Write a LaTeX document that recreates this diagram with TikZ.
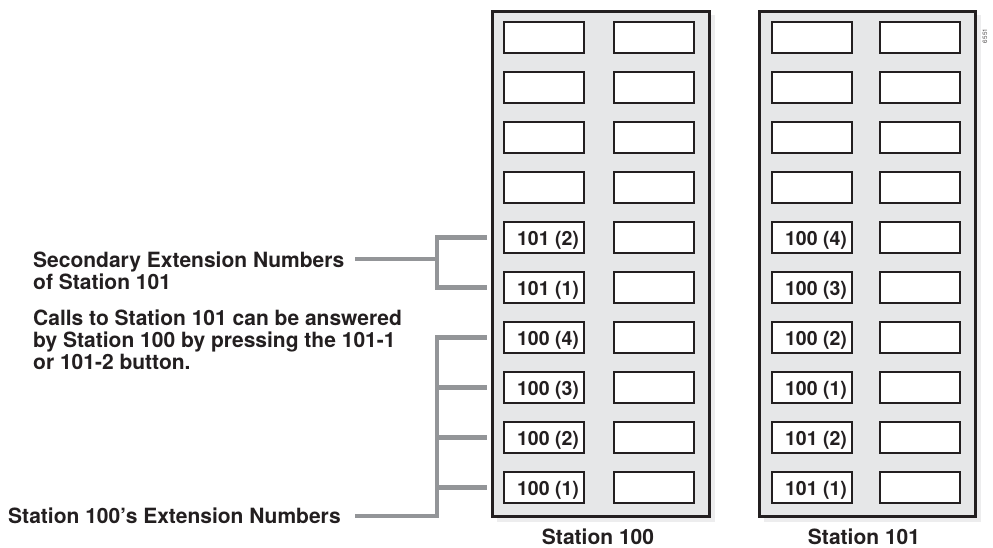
\documentclass[tikz,border=0pt]{standalone}
\usepackage{fontspec}
\setmainfont{TeX Gyre Heros}
\usetikzlibrary{calc}
\definecolor{panelfill}{HTML}{E6E7E8}
\definecolor{shadowc}{HTML}{EDEDEE}
\definecolor{framec}{HTML}{231F20}
\definecolor{connc}{HTML}{939598}
\begin{document}
\begin{tikzpicture}[x=1pt,y=-1pt,
  panel/.style={draw=framec,line width=2.6pt,fill=panelfill},
  pshadow/.style={fill=shadowc,draw=none},
  btn/.style={draw=framec,line width=2pt,fill=white,minimum width=80pt,minimum height=31pt,inner sep=0pt,anchor=north west},
  btntext/.style={font=\fontsize{19.5}{21}\selectfont\bfseries,text=framec,inner sep=0pt,anchor=base},
  lbl/.style={font=\fontsize{21}{22}\selectfont\bfseries,text=framec,inner sep=0pt,align=left},
  conn/.style={draw=connc,line width=4.5pt}]
\useasboundingbox (0,0) rectangle (993,548);
% shadows
\fill[pshadow] (497,15) rectangle (715,522);
\fill[pshadow] (764,15) rectangle (981,522);
% panels
\node[panel,minimum width=217pt,minimum height=505pt,inner sep=0pt,anchor=north west] (p100) at (491,10) {};
\node[panel,minimum width=216pt,minimum height=505pt,inner sep=0pt,anchor=north west] (p101) at (758,10) {};
% buttons
\foreach \i in {0,...,9}{
  \node[btn] (A\i) at (503,{21+50*\i}) {};
  \node[btn] (B\i) at (613,{21+50*\i}) {};
  \node[btn] (C\i) at (771,{21+50*\i}) {};
  \node[btn] (D\i) at (879,{21+50*\i}) {};
}
% button labels station 100
\node[btntext] (tA4) at ([xshift=4pt,yshift=-7.5pt]A4.center) {101 (2)};
\node[btntext] (tA5) at ([xshift=4pt,yshift=-7.5pt]A5.center) {101 (1)};
\node[btntext] (tA6) at ([xshift=4pt,yshift=-7.5pt]A6.center) {100 (4)};
\node[btntext] (tA7) at ([xshift=4pt,yshift=-7.5pt]A7.center) {100 (3)};
\node[btntext] (tA8) at ([xshift=4pt,yshift=-7.5pt]A8.center) {100 (2)};
\node[btntext] (tA9) at ([xshift=4pt,yshift=-7.5pt]A9.center) {100 (1)};
% button labels station 101
\node[btntext] (tC4) at ([xshift=4pt,yshift=-7.5pt]C4.center) {100 (4)};
\node[btntext] (tC5) at ([xshift=4pt,yshift=-7.5pt]C5.center) {100 (3)};
\node[btntext] (tC6) at ([xshift=4pt,yshift=-7.5pt]C6.center) {100 (2)};
\node[btntext] (tC7) at ([xshift=4pt,yshift=-7.5pt]C7.center) {100 (1)};
\node[btntext] (tC8) at ([xshift=4pt,yshift=-7.5pt]C8.center) {101 (2)};
\node[btntext] (tC9) at ([xshift=4pt,yshift=-7.5pt]C9.center) {101 (1)};
% station labels
\node[lbl,anchor=base] (s100) at (598,544) {Station 100};
\node[lbl,anchor=base] (s101) at (864,544) {Station 101};
% left texts
\node[lbl,anchor=base west] (sec1) at (33,267) {Secondary Extension Numbers};
\node[lbl,anchor=base west] (sec2) at (33,289) {of Station 101};
\node[lbl,anchor=base west] (calls1) at (33,325) {Calls to Station 101 can be answered};
\node[lbl,anchor=base west] (calls2) at (33,347) {by Station 100 by pressing the 101-1};
\node[lbl,anchor=base west] (calls3) at (33,369) {or 101-2 button.};
\node[lbl,anchor=base west] (ext) at (8,523) {Station 100’s Extension Numbers};
% connectors
\coordinate (s1) at (355,259);
\coordinate (j1) at (437,259);
\coordinate (s2) at (355,516);
\coordinate (j2) at (437,516);
\draw[conn] (s1) -- (j1);
\draw[conn] ([xshift=-16pt]A4.west) -| (j1) |- ([xshift=-16pt]A5.west);
\draw[conn] (s2) -- (j2) |- ([xshift=-16pt]A6.west);
\draw[conn] (j2 |- A7.west) -- ([xshift=-16pt]A7.west);
\draw[conn] (j2 |- A8.west) -- ([xshift=-16pt]A8.west);
\draw[conn] (j2 |- A9.west) -- ([xshift=-16pt]A9.west);
% figure id
\node[font=\fontsize{6.3}{7}\selectfont,text=framec!80,rotate=90,inner sep=0pt] (fid) at (985,36) {6551};
\end{tikzpicture}
\end{document}
